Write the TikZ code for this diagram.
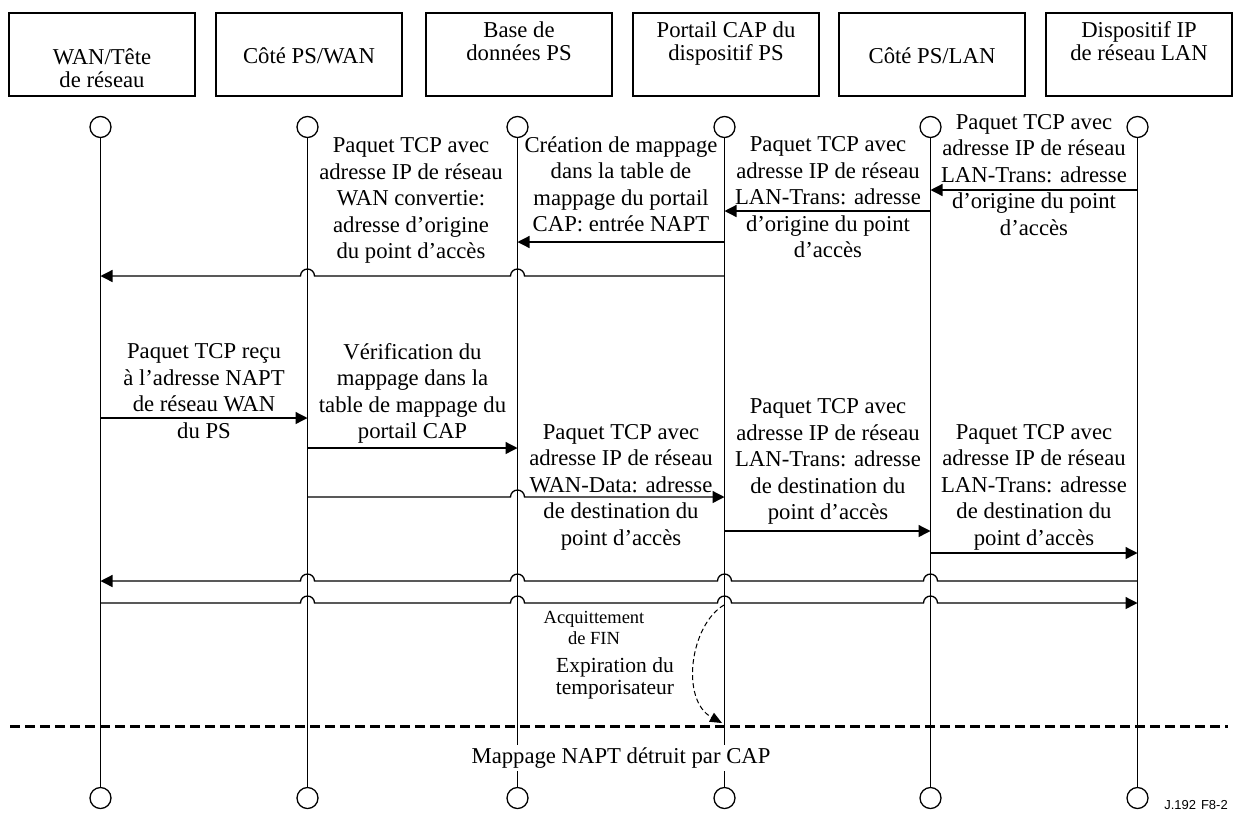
\documentclass[tikz,border=0pt]{standalone}
\usepackage{fontspec}
\setmainfont{Liberation Serif}
\newfontfamily\figsans{Liberation Sans}
\usetikzlibrary{arrows.meta}
\begin{document}
\begin{tikzpicture}[x=1pt,y=1pt,
  every node/.style={inner sep=0pt, align=center},
  lbl/.style={font=\fontsize{22.7}{26.5}\selectfont, execute at begin node=\strut, execute at end node=\strut},
  hdr/.style={draw, line width=1.8pt, minimum width=186pt, minimum height=83pt},
  hdrtxt/.style={font=\fontsize{22.7}{23}\selectfont, execute at begin node=\strut, execute at end node=\strut},
  endc/.style={draw, circle, line width=1.3pt, minimum size=21pt, fill=white},
  life/.style={line width=1.3pt},
  msg/.style={line width=1.3pt, -{Triangle[length=12pt,width=12pt]}},
  sepline/.style={line width=3pt, dash pattern=on 9.5pt off 5.5pt},
  tmr/.style={line width=1pt, dash pattern=on 5pt off 3pt, -{Triangle[length=12pt,width=10pt]}},
  small/.style={font=\fontsize{18.5}{21}\selectfont},
  tight/.style={font=\fontsize{21.5}{22}\selectfont}
]
\fill[white] (0,0) rectangle (1238,-812);
\useasboundingbox (0,0) rectangle (1238,-812);

% header boxes
\node[hdr] (h1) at (102,-54.5) {};
\node[hdr] (h2) at (309,-54.5) {};
\node[hdr] (h3) at (519,-54.5) {};
\node[hdr] (h4) at (726,-54.5) {};
\node[hdr] (h5) at (932,-54.5) {};
\node[hdr] (h6) at (1139,-54.5) {};
\node[hdrtxt] (h1t) at (h1.center |- 0,-72) {WAN/Tête\\de réseau};
\node[hdrtxt] (h2t) at (h2.center |- 0,-58.5) {Côté PS/WAN};
\node[hdrtxt] (h3t) at (h3.center |- 0,-45) {Base de\\données PS};
\node[hdrtxt] (h4t) at (h4.center |- 0,-45) {Portail CAP du\\dispositif PS};
\node[hdrtxt] (h5t) at (h5.center |- 0,-58.5) {Côté PS/LAN};
\node[hdrtxt] (h6t) at (h6.center |- 0,-44) {Dispositif IP\\de réseau LAN};

% circles
\node[endc] (t1) at (100.5,-127) {};
\node[endc] (t2) at (307.5,-127) {};
\node[endc] (t3) at (517.5,-127) {};
\node[endc] (t4) at (724.5,-127) {};
\node[endc] (t5) at (930.5,-127) {};
\node[endc] (t6) at (1137.5,-127) {};
\node[endc] (b1) at (100.5,-798) {};
\node[endc] (b2) at (307.5,-798) {};
\node[endc] (b3) at (517.5,-798) {};
\node[endc] (b4) at (724.5,-798) {};
\node[endc] (b5) at (930.5,-798) {};
\node[endc] (b6) at (1137.5,-798) {};

% lifelines
\foreach \i in {1,...,6} \draw[life] (t\i) -- (b\i);

% messages
\draw[msg] (1137.5,-190) -- (930.5,-190);
\draw[msg] (930.5,-211) -- (724.5,-211);
\draw[msg] (724.5,-242) -- (517.5,-242);
\draw[msg] (724.5,-276) -- (524.5,-276) arc[start angle=0,end angle=180,radius=7]
  -- (314.5,-276) arc[start angle=0,end angle=180,radius=7] -- (100.5,-276);
\draw[msg] (100.5,-418) -- (307.5,-418);
\draw[msg] (307.5,-448) -- (517.5,-448);
\draw[msg] (307.5,-497) -- (510.5,-497) arc[start angle=180,end angle=0,radius=7] -- (724.5,-497);
\draw[msg] (724.5,-531) -- (930.5,-531);
\draw[msg] (930.5,-553) -- (1137.5,-553);
\draw[msg] (1137.5,-581) -- (937.5,-581) arc[start angle=0,end angle=180,radius=7]
  -- (731.5,-581) arc[start angle=0,end angle=180,radius=7]
  -- (524.5,-581) arc[start angle=0,end angle=180,radius=7]
  -- (314.5,-581) arc[start angle=0,end angle=180,radius=7] -- (100.5,-581);
\draw[msg] (100.5,-603) -- (300.5,-603) arc[start angle=180,end angle=0,radius=7]
  -- (510.5,-603) arc[start angle=180,end angle=0,radius=7]
  -- (717.5,-603) arc[start angle=180,end angle=0,radius=7]
  -- (923.5,-603) arc[start angle=180,end angle=0,radius=7] -- (1137.5,-603);

% labels
\node[lbl] (l1) at (1034,-178.5) {Paquet TCP avec\\adresse IP de réseau\\LAN-Trans: adresse\\d’origine du point\\d’accès};
\node[lbl] (l2) at (828,-201) {Paquet TCP avec\\adresse IP de réseau\\LAN-Trans: adresse\\d’origine du point\\d’accès};
\node[lbl] (l3) at (621,-188) {Création de mappage\\dans la table de\\mappage du portail\\CAP: entrée NAPT};
\node[lbl] (l4) at (411,-202) {Paquet TCP avec\\adresse IP de réseau\\WAN convertie:\\adresse d’origine\\du point d’accès};
\node[lbl] (l5) at (204,-395) {Paquet TCP reçu\\à l’adresse NAPT\\de réseau WAN\\du PS};
\node[lbl] (l6) at (412.5,-395) {Vérification du\\mappage dans la\\table de mappage du\\portail CAP};
\node[lbl] (l7) at (621,-488.5) {Paquet TCP avec\\adresse IP de réseau\\WAN-Data: adresse\\de destination du\\point d’accès};
\node[lbl] (l8) at (828,-463) {Paquet TCP avec\\adresse IP de réseau\\LAN-Trans: adresse\\de destination du\\point d’accès};
\node[lbl] (l9) at (1034,-488.5) {Paquet TCP avec\\adresse IP de réseau\\LAN-Trans: adresse\\de destination du\\point d’accès};

% timer
\node[small] (ack) at (594,-628) {Acquittement\\de FIN};
\node[tight] (exp) at (615,-678) {Expiration du\\temporisateur};
\coordinate (tmrs) at (724,-605);
\coordinate (tmre) at (722,-723);
\draw[tmr] (tmrs) .. controls (690,-625) and (680,-700) .. (tmre);

% separator
\coordinate (sepl) at (10,-726);
\coordinate (sepr) at (1228,-726);
\draw[sepline] (sepl) -- (sepr);
\node[fill=white, inner sep=3pt, font=\fontsize{22.7}{26.5}\selectfont] (napt) at (621,-758) {Mappage NAPT détruit par CAP};

\node[font=\figsans\fontsize{13}{15}\selectfont] (fig) at (1196,-805) {J.192\hspace{5pt}F8-2};
\end{tikzpicture}
\end{document}
